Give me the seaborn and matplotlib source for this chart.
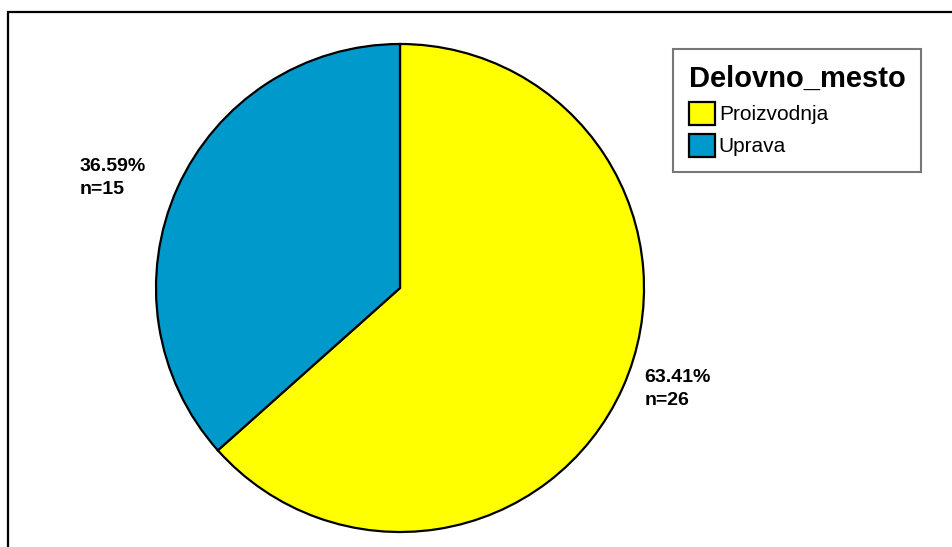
import matplotlib
matplotlib.use("Agg")
import matplotlib.pyplot as plt
import seaborn as sns
import numpy as np
from matplotlib.patches import Rectangle

# =========================================================
# DATA
# =========================================================
categories = ["Proizvodnja", "Uprava"]
counts = [26, 15]
percents = [63.41, 36.59]
legend_title = "Delovno_mesto"

COL_PROIZ = "#FFFF00"
COL_UPRAVA = "#0099CC"

# =========================================================
# STYLE
# =========================================================
sns.set_style("white")
plt.rcParams["font.family"] = ["Liberation Sans", "DejaVu Sans"]
plt.rcParams["text.color"] = "black"
plt.rcParams["legend.labelcolor"] = "black"

W, H = 952, 547
fig = plt.figure(figsize=(W / 100, H / 100), dpi=100)

# outer frame (open to the right and bottom like the reference)
fig.patches.append(Rectangle((8.3 / W, -0.2), 1.5, (H - 11.8) / H + 0.2,
                             transform=fig.transFigure, fill=False,
                             edgecolor="black", linewidth=1.6))

# pie axes: centre (400, 288) px, radius 244 px
cx, cy, r = 400, 288, 244
ax = fig.add_axes([(cx - r) / W, (H - cy - r) / H, 2 * r / W, 2 * r / H])

wedges, _ = ax.pie(
    counts,
    colors=[COL_PROIZ, COL_UPRAVA],
    startangle=90,
    counterclock=False,
    wedgeprops=dict(edgecolor="black", linewidth=1.6),
    radius=1.0,
)
ax.set_xlim(-1.0, 1.0)
ax.set_ylim(-1.0, 1.0)
ax.set_aspect("equal")

# slice labels
label_pos = [(1.139, -0.414), (-1.176, 0.451)]
for (lx, ly), p, n in zip(label_pos, percents, counts):
    ax.text(lx, ly, f"{p:.2f}%\nn={n}", ha="center", va="center",
            multialignment="left", fontsize=14, fontweight="bold",
            color="black", linespacing=1.4, clip_on=False)

# legend
leg = fig.legend(
    wedges, categories,
    title=legend_title,
    loc="upper left",
    bbox_to_anchor=(673 / W, 1 - 49 / H),
    frameon=True,
    fancybox=False,
    fontsize=15,
    title_fontproperties=dict(weight="bold", size=21),
    alignment="left",
    handlelength=1.25,
    handleheight=1.3,
    handletextpad=0.2,
    labelspacing=0.45,
    borderpad=0.75,
    borderaxespad=0,
)
leg.get_title().set_color("black")
leg.get_frame().set_edgecolor("#555555")
leg.get_frame().set_linewidth(1.5)

fig.savefig("out.png", dpi=100)
